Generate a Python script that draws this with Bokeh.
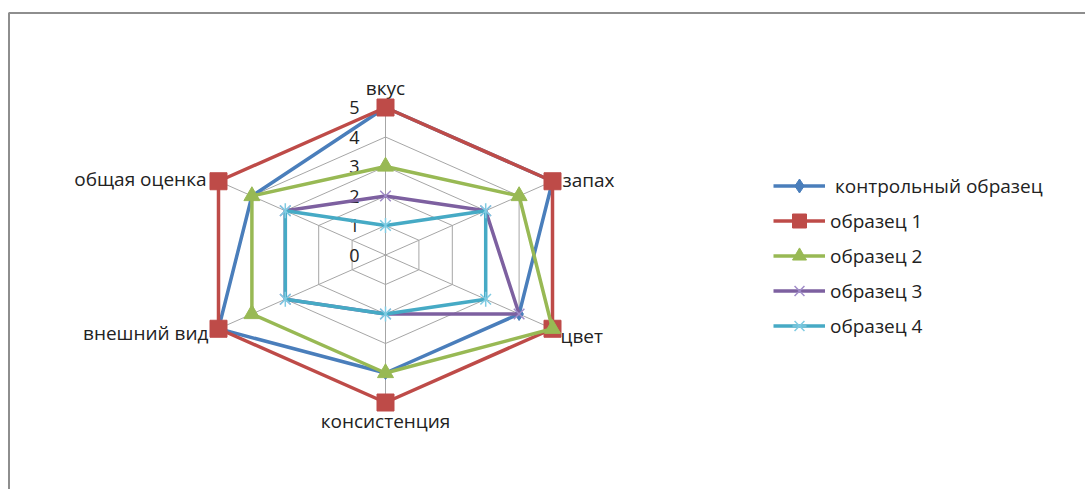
import numpy as np
from bokeh.plotting import figure
from bokeh.models import Legend, LegendItem, Range1d
from bokeh.core.properties import value
from bokeh.embed import file_html
from bokeh.resources import INLINE

categories = ["вкус", "запах", "цвет", "консистенция", "внешний вид", "общая оценка"]
series_names = [" контрольный образец", "образец 1", "образец 2", "образец 3", "образец 4"]
control = [5, 5, 4, 4, 5, 4]
sample1 = [5, 5, 5, 5, 5, 5]
sample2 = [3, 4, 5, 4, 4, 4]
sample3 = [2, 3, 4, 2, 3, 3]
sample4 = [1, 3, 3, 2, 3, 3]
tick_values = [0, 1, 2, 3, 4, 5]
tick_labels = ["0", "1", "2", "3", "4", "5"]

colors = ["#4A7EBB", "#BE4B48", "#98B954", "#7D60A0", "#46AAC5"]
marker_colors = ["#4A7EBB", "#BE4B48", "#98B954", "#A08CC8", "#7FCBE2"]
markers = ["diamond", "square", "triangle", "x", "x"]
marker_sizes = [13, 17, 16, 15, 15]

W, H = 1085, 489
cx, cy = 385.0, 254.5
ux, uy = 167.0 / (5 * np.sin(np.pi / 3)), 147.5 / 5
x0, x1 = -cx / ux, (W - cx) / ux
y1, y0 = cy / uy, -(H - cy) / uy

p = figure(width=W, height=H, output_backend="svg", toolbar_location=None,
           x_range=Range1d(x0, x1), y_range=Range1d(y0, y1),
           min_border=0, min_border_left=0, min_border_right=0,
           min_border_top=0, min_border_bottom=0)
p.axis.visible = False
p.grid.visible = False
p.outline_line_color = None
p.background_fill_color = "white"

n = len(categories)
theta = np.arange(n) * 2 * np.pi / n
sx, sy = np.sin(theta), np.cos(theta)

def closed(vals):
    v = np.array(vals, dtype=float)
    xs = v * sx
    ys = v * sy
    return list(xs) + [xs[0]], list(ys) + [ys[0]]

# frame border (top and left)
bx = x0 + 8.5 / ux
by = y1 - 12.5 / uy
p.line([bx, bx, x1 + 1], [y0 - 1, by, by], line_color="#8E8E8E", line_width=2)

# grid rings and spokes
for t in tick_values[1:]:
    gx, gy = closed([t] * n)
    p.line(gx, gy, line_color="#A6A6A6", line_width=1)
rmax = max(tick_values)
p.segment(x0=[0] * n, y0=[0] * n, x1=list(rmax * sx), y1=list(rmax * sy),
          line_color="#A6A6A6", line_width=1)

# tick labels
p.text(x=[0] * len(tick_values), y=tick_values, text=tick_labels,
       text_align="right", text_baseline="middle", x_offset=-26,
       text_font=value("Open Sans"), text_font_size="18px", text_color="#222222")

# category labels
lab_x = list(rmax * sx)
lab_y = list(rmax * sy)
offs = [(0, -20, "center"), (10, -1, "left"), (8, 7, "left"),
        (0, 18, "center"), (-10, 4, "right"), (-12, -2, "right")]
for i, c in enumerate(categories):
    ox, oy, al = offs[i]
    p.text(x=[lab_x[i]], y=[lab_y[i]], text=[c], x_offset=ox, y_offset=oy,
           text_align=al, text_baseline="middle",
           text_font=value("Open Sans"), text_font_size="19px", text_color="#222222")

# series
all_vals = [control, sample1, sample2, sample3, sample4]
items = []
for i, vals in enumerate(all_vals):
    xs, ys = closed(vals)
    rends = [p.line(xs, ys, line_color=colors[i], line_width=3.5)]
    kw = dict(marker=markers[i], size=marker_sizes[i])
    if i >= 3:
        kw.update(line_color=marker_colors[i], line_width=1.5, fill_color=None)
    else:
        kw.update(line_color=colors[i], fill_color=colors[i], line_width=1)
    rends.append(p.scatter(xs[:-1], ys[:-1], **kw))
    if i == 4:
        rends.append(p.scatter(xs[:-1], ys[:-1], marker="dash", angle=np.pi / 2,
                               size=marker_sizes[i], line_color=marker_colors[i],
                               line_width=1.5))
    items.append(LegendItem(label=series_names[i], renderers=rends))

legend = Legend(items=items, location=(773, 146), orientation="vertical",
                glyph_width=52, glyph_height=35, label_height=20, spacing=0,
                label_standoff=5, padding=0, margin=0,
                border_line_color=None, background_fill_alpha=0,
                label_text_font="Open Sans", label_text_font_size="19px",
                label_text_color="#222222")
p.add_layout(legend, "center")

open("out.html", "w").write(file_html(p, INLINE))
